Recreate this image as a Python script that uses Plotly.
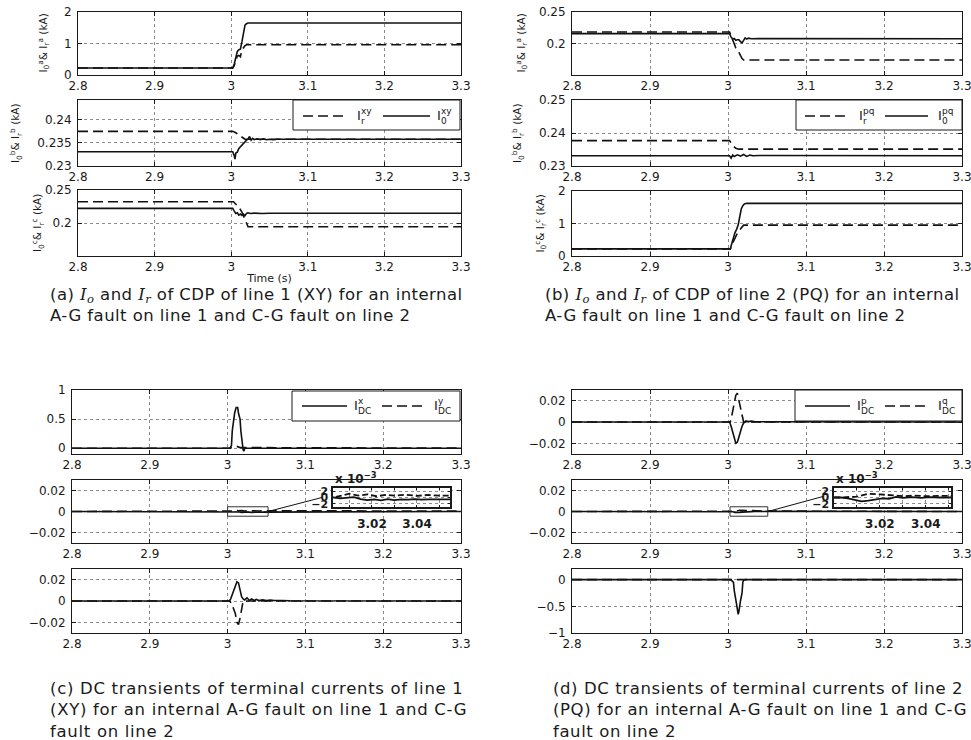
import plotly.graph_objects as go

# ---------------- data ----------------
X_TICKS = [2.8, 2.9, 3.0, 3.1, 3.2, 3.3]
X_TICK_TEXT = ["2.8", "2.9", "3", "3.1", "3.2", "3.3"]

# (a) line 1 (XY) – phase a
A1_T_I0 = [2.8, 3.002, 3.004, 3.006, 3.008, 3.010, 3.012, 3.014, 3.016, 3.018, 3.020, 3.022, 3.025, 3.3]
A1_I0 = [0.22, 0.22, 0.35, 0.55, 0.75, 0.80, 0.82, 1.05, 1.40, 1.58, 1.63, 1.65, 1.65, 1.65]
A1_T_IR = [2.8, 3.002, 3.004, 3.006, 3.008, 3.010, 3.012, 3.014, 3.016, 3.018, 3.020, 3.3]
A1_IR = [0.22, 0.22, 0.30, 0.45, 0.60, 0.62, 0.58, 0.80, 0.88, 0.93, 0.96, 0.96]
# phase b
A2_T_I0 = [2.8, 3.002, 3.004, 3.005, 3.006, 3.008, 3.010, 3.012, 3.014, 3.016, 3.018, 3.020, 3.022,
           3.024, 3.026, 3.028, 3.030, 3.034, 3.038, 3.042, 3.046, 3.050, 3.055, 3.060, 3.3]
A2_I0 = [0.2331, 0.2331, 0.2322, 0.2315, 0.2328, 0.2330, 0.2338, 0.2342, 0.2346, 0.2348, 0.2352, 0.2356,
         0.2358, 0.2364, 0.2356, 0.2360, 0.2357, 0.2359, 0.2357, 0.2359, 0.2357, 0.2358, 0.2357, 0.2358, 0.2358]
A2_T_IR = [2.8, 3.002, 3.006, 3.010, 3.014, 3.018, 3.022, 3.3]
A2_IR = [0.2375, 0.2375, 0.2372, 0.2367, 0.2362, 0.2358, 0.2358, 0.2358]
# phase c
A3_T_I0 = [2.8, 3.002, 3.004, 3.006, 3.008, 3.010, 3.012, 3.014, 3.016, 3.018, 3.020, 3.022, 3.025,
           3.030, 3.040, 3.050, 3.3]
A3_I0 = [0.2222, 0.2222, 0.218, 0.2145, 0.2155, 0.212, 0.2135, 0.2115, 0.2135, 0.211, 0.2145, 0.2155,
         0.2145, 0.2150, 0.2145, 0.2148, 0.2147]
A3_T_IR = [2.8, 3.003, 3.006, 3.010, 3.014, 3.018, 3.020, 3.022, 3.3]
A3_IR = [0.2323, 0.2323, 0.2285, 0.2240, 0.2165, 0.2050, 0.1980, 0.1944, 0.1944]

# (b) line 2 (PQ) – phase a
B1_T_I0 = [2.8, 3.002, 3.004, 3.006, 3.008, 3.010, 3.012, 3.014, 3.016, 3.018, 3.020, 3.022, 3.024,
           3.026, 3.030, 3.040, 3.3]
B1_I0 = [0.2156, 0.2156, 0.210, 0.207, 0.208, 0.205, 0.206, 0.206, 0.203, 0.201, 0.205, 0.209, 0.207,
         0.2085, 0.2075, 0.2077, 0.2076]
B1_T_IR = [2.8, 3.002, 3.004, 3.006, 3.008, 3.010, 3.014, 3.016, 3.018, 3.020, 3.3]
B1_IR = [0.2182, 0.2182, 0.212, 0.205, 0.197, 0.193, 0.186, 0.180, 0.176, 0.1737, 0.1737]
# phase b
B2_T_I0 = [2.8, 3.002, 3.004, 3.006, 3.008, 3.012, 3.016, 3.020, 3.024, 3.028, 3.032, 3.040, 3.3]
B2_I0 = [0.2331, 0.2331, 0.2324, 0.2333, 0.2329, 0.2334, 0.2330, 0.2335, 0.2329, 0.2333, 0.2331, 0.2332, 0.2331]
B2_T_IR = [2.8, 3.002, 3.006, 3.010, 3.014, 3.3]
B2_IR = [0.2377, 0.2377, 0.2362, 0.2354, 0.2351, 0.2351]
# phase c
B3_T_I0 = [2.8, 3.003, 3.005, 3.007, 3.009, 3.011, 3.013, 3.015, 3.017, 3.019, 3.021, 3.024, 3.3]
B3_I0 = [0.22, 0.22, 0.40, 0.60, 0.72, 0.82, 0.95, 1.20, 1.45, 1.55, 1.60, 1.62, 1.62]
B3_T_IR = [2.8, 3.003, 3.006, 3.009, 3.012, 3.015, 3.018, 3.020, 3.3]
B3_IR = [0.22, 0.22, 0.40, 0.58, 0.70, 0.80, 0.88, 0.95, 0.95]

# (c) DC transients line 1
C1_T_X = [2.8, 3.003, 3.005, 3.006, 3.008, 3.009, 3.011, 3.013, 3.014, 3.016, 3.017, 3.019, 3.020, 3.021, 3.022, 3.3]
C1_X = [0, 0, 0.05, 0.3, 0.5, 0.6, 0.7, 0.7, 0.6, 0.5, 0.3, 0.05, -0.03, -0.05, 0, 0]
C1_T_Y = [2.8, 3.003, 3.008, 3.012, 3.016, 3.3]
C1_Y = [0, 0, 0.02, 0.03, 0.01, 0]
C2_T_X = [2.8, 3.003, 3.006, 3.009, 3.012, 3.015, 3.018, 3.021, 3.024, 3.027, 3.030, 3.033, 3.036,
          3.039, 3.042, 3.045, 3.048, 3.3]
C2_X = [0, 0, -0.0003, -0.0002, 0.0001, -0.0005, -0.0008, -0.0006, -0.0009, -0.0005, -0.0008, -0.0006,
        -0.0007, -0.0005, -0.0007, -0.0006, -0.0006, 0]
C2_T_Y = [2.8, 3.003, 3.006, 3.010, 3.014, 3.018, 3.022, 3.026, 3.030, 3.035, 3.040, 3.045, 3.050, 3.3]
C2_Y = [0, 0, 0.0005, 0.0012, 0.0006, 0.0010, 0.0004, 0.0008, 0.0006, 0.0009, 0.0005, 0.0008, 0.0006, 0.0005]
C3_T_X = [2.8, 3.002, 3.004, 3.006, 3.008, 3.010, 3.012, 3.014, 3.016, 3.018, 3.020, 3.022, 3.025,
          3.028, 3.031, 3.034, 3.037, 3.040, 3.045, 3.050, 3.055, 3.060, 3.070, 3.080, 3.3]
C3_X = [0, 0, 0.002, 0.006, 0.010, 0.016, 0.018, 0.017, 0.010, 0.004, 0.002, 0.001, 0.003, 0.0005,
        0.002, 0.0005, 0.0015, 0.0005, 0.001, 0.0005, 0.0008, 0.0004, 0.0005, 0.0002, 0]
C3_T_Y = [2.8, 3.003, 3.006, 3.008, 3.010, 3.012, 3.014, 3.016, 3.018, 3.020, 3.3]
C3_Y = [0, 0, -0.004, -0.008, -0.012, -0.020, -0.022, -0.016, -0.008, 0, 0]

# (d) DC transients line 2
D1_T_P = [2.8, 3.002, 3.004, 3.006, 3.008, 3.010, 3.012, 3.014, 3.016, 3.018, 3.020, 3.023, 3.026,
          3.030, 3.035, 3.040, 3.3]
D1_P = [0, 0, -0.004, -0.010, -0.016, -0.020, -0.019, -0.014, -0.008, -0.004, -0.001, 0.001, 0.0005,
        0.0008, 0.0003, 0.0002, 0]
D1_T_Q = [2.8, 3.003, 3.006, 3.008, 3.010, 3.012, 3.014, 3.016, 3.018, 3.020, 3.3]
D1_Q = [0, 0, 0.010, 0.018, 0.025, 0.027, 0.020, 0.012, 0.005, 0, 0]
D2_T_P = [2.8, 3.003, 3.006, 3.009, 3.012, 3.015, 3.018, 3.021, 3.024, 3.027, 3.030, 3.034, 3.038,
          3.042, 3.046, 3.050, 3.3]
D2_P = [0, 0, -0.0003, -0.0008, -0.0012, -0.0010, -0.0006, -0.0003, -0.0004, 0.0002, -0.0001, 0.0001,
        -0.0001, 0.0001, 0, 0.0001, 0]
D2_T_Q = [2.8, 3.003, 3.010, 3.015, 3.020, 3.025, 3.030, 3.035, 3.040, 3.045, 3.050, 3.3]
D2_Q = [0, 0, 0.0003, 0.0012, 0.0010, 0.0008, 0.0004, 0.0006, 0.0004, 0.0005, 0.0004, 0]
D3_T_P = [2.8, 3.003, 3.005, 3.007, 3.008, 3.010, 3.012, 3.013, 3.014, 3.016, 3.018, 3.019, 3.020, 3.022, 3.3]
D3_P = [0, 0, -0.02, -0.05, -0.2, -0.35, -0.55, -0.65, -0.60, -0.40, -0.25, -0.05, -0.01, 0, 0]
D3_T_Q = [2.8, 3.3]
D3_Q = [0, 0]

# ---------------- layout helpers ----------------
# the page body margin is removed after plotting (post_script), so the figure fills the window
W, H = 971, 740
FONT = "DejaVu Sans, Verdana, sans-serif"
INK = "#1a1a1a"


def fx(p):
    return p / W


def fy(p):
    return 1 - p / H


SOLID = "solid"
DASH = "10px,5px"

# n, left, right, top, bottom (window px), yrange, ytickvals, yticktext, ytitle, title x-centre, series
SUBPLOTS = [
    (1, 78, 461, 12, 75, [0, 2], [0, 1, 2], ["0", "1", "2"],
     "I<sub>0</sub><sup>a</sup>& I<sub>r</sub><sup>a</sup> (kA)", 43,
     [(A1_T_IR, A1_IR, DASH), (A1_T_I0, A1_I0, SOLID)]),
    (2, 78, 461, 100, 166, [0.23, 0.2443], [0.23, 0.235, 0.24], ["0.23", "0.235", "0.24"],
     "I<sub>0</sub><sup>b</sup>& I<sub>r</sub><sup>b</sup> (kA)", 16,
     [(A2_T_IR, A2_IR, DASH), (A2_T_I0, A2_I0, SOLID)]),
    (3, 78, 461, 190, 256, [0.15, 0.25], [0.2, 0.25], ["0.2", "0.25"],
     "I<sub>0</sub><sup>c</sup>& I<sub>r</sub><sup>c</sup> (kA)", 38,
     [(A3_T_IR, A3_IR, DASH), (A3_T_I0, A3_I0, SOLID)]),
    (4, 572, 962, 12, 75, [0.15, 0.25], [0.2, 0.25], ["0.2", "0.25"],
     "I<sub>0</sub><sup>a</sup>& I<sub>r</sub><sup>a</sup> (kA)", 521,
     [(B1_T_IR, B1_IR, DASH), (B1_T_I0, B1_I0, SOLID)]),
    (5, 572, 962, 100, 166, [0.23, 0.25], [0.23, 0.24, 0.25], ["0.23", "0.24", "0.25"],
     "I<sub>0</sub><sup>b</sup>& I<sub>r</sub><sup>b</sup> (kA)", 518,
     [(B2_T_IR, B2_IR, DASH), (B2_T_I0, B2_I0, SOLID)]),
    (6, 572, 962, 191, 256, [0, 2], [0, 1, 2], ["0", "1", "2"],
     "I<sub>0</sub><sup>c</sup>& I<sub>r</sub><sup>c</sup> (kA)", 540,
     [(B3_T_IR, B3_IR, DASH), (B3_T_I0, B3_I0, SOLID)]),
    (7, 72, 461, 390, 454, [-0.1, 1], [0, 0.5, 1], ["0", "0.5", "1"], None, None,
     [(C1_T_X, C1_X, SOLID), (C1_T_Y, C1_Y, DASH)]),
    (8, 72, 461, 480, 543, [-0.03, 0.03], [-0.02, 0, 0.02], ["\u22120.02", "0", "0.02"], None, None,
     [(C2_T_X, C2_X, SOLID), (C2_T_Y, C2_Y, DASH)]),
    (9, 72, 461, 569, 633, [-0.03, 0.03], [-0.02, 0, 0.02], ["\u22120.02", "0", "0.02"], None, None,
     [(C3_T_X, C3_X, SOLID), (C3_T_Y, C3_Y, DASH)]),
    (10, 572, 962, 390, 454, [-0.03, 0.03], [-0.02, 0, 0.02], ["\u22120.02", "0", "0.02"], None, None,
     [(D1_T_P, D1_P, SOLID), (D1_T_Q, D1_Q, DASH)]),
    (11, 572, 962, 480, 543, [-0.03, 0.03], [-0.02, 0, 0.02], ["\u22120.02", "0", "0.02"], None, None,
     [(D2_T_P, D2_P, SOLID), (D2_T_Q, D2_Q, DASH)]),
    (12, 572, 962, 569, 633, [-1, 0.2], [-1, -0.5, 0], ["\u22121", "\u22120.5", "0"], None, None,
     [(D3_T_P, D3_P, SOLID), (D3_T_Q, D3_Q, DASH)]),
]

# inset axes: n, left, right, top, bottom, xrange, series
INSETS = [
    (13, 333, 450, 488, 507, [3.0027, 3.0547], [(C2_T_X, C2_X, SOLID), (C2_T_Y, C2_Y, DASH)]),
    (14, 834, 951, 488, 507, [3.0, 3.051], [(D2_T_P, D2_P, SOLID), (D2_T_Q, D2_Q, DASH)]),
]


def ax_name(kind, n):
    return f"{kind}axis" if n == 1 else f"{kind}axis{n}"


def ref(kind, n):
    return kind if n == 1 else f"{kind}{n}"


AXIS_STYLE = dict(
    showline=True, linecolor=INK, linewidth=1, mirror="ticks",
    ticks="inside", ticklen=4, tickcolor=INK,
    showgrid=True, gridcolor="#8c8c8c", griddash="dot", gridwidth=1,
    zeroline=False, automargin=False, fixedrange=True, ticklabeloverflow="allow",
    tickfont=dict(family=FONT, size=12, color=INK),
)

fig = go.Figure()
layout = {}
annotations = []
shapes = []

for n, l, r, t, b, yr, yt, ytt, ytitle, tx, series in SUBPLOTS:
    for xs, ys, dash in series:
        fig.add_trace(go.Scatter(
            x=xs, y=ys, mode="lines", xaxis=ref("x", n), yaxis=ref("y", n),
            line=dict(color="#111111", width=1.6, dash=dash),
            showlegend=False, hoverinfo="skip"))
    xa = dict(AXIS_STYLE, domain=[fx(l), fx(r)], anchor=ref("y", n), range=[2.8, 3.3],
              tickvals=X_TICKS, ticktext=X_TICK_TEXT)
    if n == 3:
        xa["title"] = dict(text="Time (s)", font=dict(family=FONT, size=11, color=INK), standoff=0)
    ya = dict(AXIS_STYLE, domain=[fy(b), fy(t)], anchor=ref("x", n), range=yr,
              tickvals=yt, ticktext=ytt, ticklabelstandoff=3)
    layout[ax_name("x", n)] = xa
    layout[ax_name("y", n)] = ya
    if ytitle:
        annotations.append(dict(text=ytitle, xref="paper", yref="paper", x=fx(tx), y=fy((t + b) / 2),
                                xanchor="center", yanchor="middle", textangle=-90, showarrow=False,
                                font=dict(family=FONT, size=10.5, color=INK)))

for n, l, r, t, b, xr, series in INSETS:
    for xs, ys, dash in series:
        fig.add_trace(go.Scatter(
            x=xs, y=ys, mode="lines", xaxis=ref("x", n), yaxis=ref("y", n),
            line=dict(color="#111111", width=1.8, dash="6px,3px" if dash != SOLID else SOLID),
            showlegend=False, hoverinfo="skip"))
    bold = dict(family=FONT, size=12, color=INK, weight="bold")
    layout[ax_name("x", n)] = dict(
        AXIS_STYLE, domain=[fx(l), fx(r)], anchor=ref("y", n), range=xr,
        tickvals=[3.01, 3.02, 3.03, 3.04, 3.05], ticktext=["", "3.02", "", "3.04", ""],
        tickfont=bold, ticklabelstandoff=5, linewidth=1.5, ticklen=2)
    layout[ax_name("y", n)] = dict(
        AXIS_STYLE, domain=[fy(b), fy(t)], anchor=ref("x", n), range=[-0.003, 0.003],
        tickvals=[-0.002, 0, 0.002], ticktext=["\u22122", "0", "2"],
        tickfont=dict(bold, size=11), ticklabelstandoff=1, linewidth=1.5, ticklen=2)

# zoom rectangles and connector lines (in main axis coordinates)
ZOOM_BOXES = [
    (8, [3.0, 3.052], [-0.0045, 0.0045], [3.052, 0.0], [3.121, 0.0133], 333),
    (11, [3.0026, 3.051], [-0.0045, 0.0045], [3.051, 0.0], [3.1218, 0.0143], 834),
]
for n, bx, by, p0, p1, inset_left in ZOOM_BOXES:
    shapes.append(dict(type="rect", xref=ref("x", n), yref=ref("y", n),
                       x0=bx[0], x1=bx[1], y0=by[0], y1=by[1],
                       line=dict(color="#333", width=1)))
    shapes.append(dict(type="line", xref=ref("x", n), yref=ref("y", n),
                       x0=p0[0], y0=p0[1], x1=p1[0], y1=p1[1],
                       line=dict(color="#111", width=1)))
    annotations.append(dict(text="<b>x 10<sup>\u22123</sup></b>", xref="paper", yref="paper",
                            x=fx(inset_left), y=fy(478), xanchor="left", yanchor="middle",
                            showarrow=False, font=dict(family=FONT, size=12, color=INK)))

# manual legends (stacked super/subscripts)
LEGENDS = [
    ((293, 100, 460, 130), 116,
     [(DASH, 303, 347, 355, "xy", "r"), (SOLID, 383, 430, 435, "xy", "0")]),
    ((796, 100, 962, 130), 116,
     [(DASH, 805, 847, 857, "pq", "r"), (SOLID, 885, 928, 936, "pq", "0")]),
    ((292, 391, 460, 421), 406,
     [(SOLID, 302, 347, 352, "x", "DC"), (DASH, 382, 425, 432, "y", "DC")]),
    ((795, 390, 962, 421), 406,
     [(SOLID, 805, 850, 855, "p", "DC"), (DASH, 885, 928, 936, "q", "DC")]),
]
for (bx0, by0, bx1, by1), ly, items in LEGENDS:
    shapes.append(dict(type="rect", xref="paper", yref="paper",
                       x0=fx(bx0), x1=fx(bx1), y0=fy(by1), y1=fy(by0),
                       fillcolor="white", line=dict(color=INK, width=1), layer="above"))
    for dash, sx0, sx1, tx, sup, sub in items:
        shapes.append(dict(type="line", xref="paper", yref="paper",
                           x0=fx(sx0), x1=fx(sx1), y0=fy(ly), y1=fy(ly),
                           line=dict(color="#111", width=1.6, dash=dash)))
        annotations.append(dict(text="I", xref="paper", yref="paper", x=fx(tx), y=fy(ly),
                                xanchor="left", yanchor="middle", showarrow=False,
                                font=dict(family=FONT, size=13, color=INK)))
        annotations.append(dict(text=sup, xref="paper", yref="paper", x=fx(tx + 4), y=fy(ly - 5),
                                xanchor="left", yanchor="middle", showarrow=False,
                                font=dict(family=FONT, size=9, color=INK)))
        annotations.append(dict(text=sub, xref="paper", yref="paper", x=fx(tx + 4), y=fy(ly + 5),
                                xanchor="left", yanchor="middle", showarrow=False,
                                font=dict(family=FONT, size=9, color=INK)))

# captions
IO = "<span style=\"font-family:'DejaVu Serif'\"><i>I<sub>o</sub></i></span>"
IR = "<span style=\"font-family:'DejaVu Serif'\"><i>I<sub>r</sub></i></span>"
CAPTIONS = [
    (48, 283, 0.45, [f"(a) {IO} and {IR} of CDP of line 1 (XY) for an internal",
                     "A-G fault on line 1 and C-G fault on line 2"]),
    (543, 283, 0.45, [f"(b) {IO} and {IR} of CDP of line 2 (PQ) for an internal",
                      "A-G fault on line 1 and C-G fault on line 2"]),
    (48, 677, 0.7, ["(c) DC transients of terminal currents of line 1",
                    "(XY) for an internal A-G fault on line 1 and C-G",
                    "fault on line 2"]),
    (551, 677, 0.6, ["(d) DC transients of terminal currents of line 2",
                     "(PQ) for an internal A-G fault on line 1 and C-G",
                     "fault on line 2"]),
]
for cx, cy, ls, lines in CAPTIONS:
    txt = "<br>".join(f"<span style=\"letter-spacing:{ls}px\">{ln}</span>" for ln in lines)
    annotations.append(dict(text=txt, xref="paper", yref="paper", x=fx(cx), y=fy(cy),
                            xanchor="left", yanchor="top", align="left", showarrow=False,
                            font=dict(family=FONT, size=16.5, color=INK)))

fig.update_layout(
    width=W, height=H, autosize=False,
    margin=dict(l=0, r=0, t=0, b=0),
    paper_bgcolor="white", plot_bgcolor="white",
    shapes=shapes, annotations=annotations,
    showlegend=False,
    **layout,
)

fig.write_html("out.html", config={"displayModeBar": False},
               post_script="document.body.style.margin='0';")
